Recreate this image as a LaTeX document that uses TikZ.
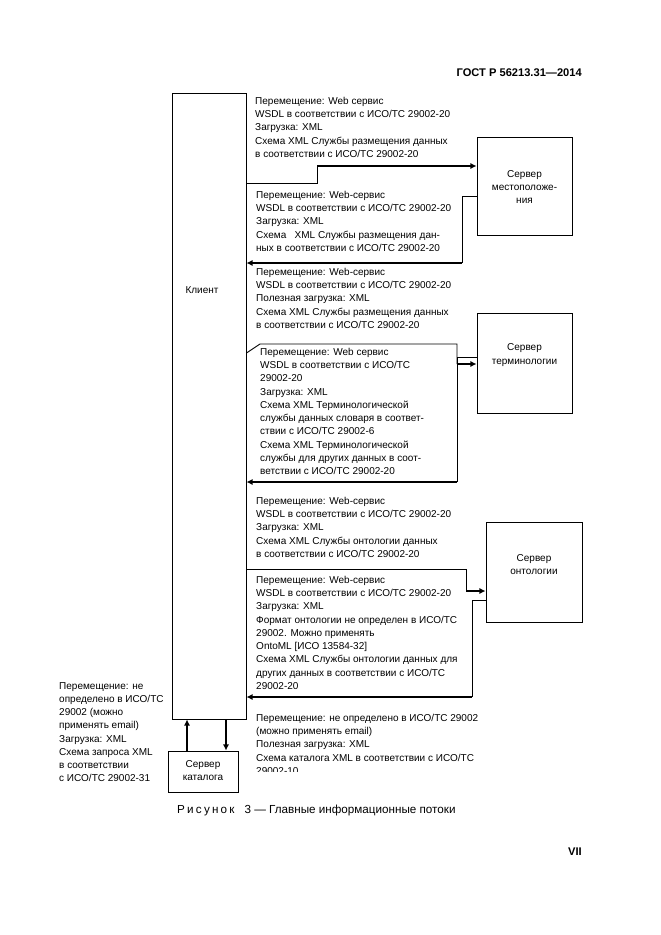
\documentclass[tikz,border=0pt]{standalone}
\usepackage{fontspec}
\setmainfont{Liberation Sans}
\usetikzlibrary{arrows.meta}

\begin{document}
\begin{tikzpicture}[x=0.9pt, y=-0.9pt,
            every node/.style={inner sep=0pt, font=\fontsize{9}{11.9}\selectfont},
            srv/.style={draw, line width=0.8pt},
            txt/.style={anchor=north west, align=left},
            link/.style={line width=0.8pt},
            flow/.style={line width=1.8pt, -{Latex[length=5.5pt,width=5.5pt]}}
          ]
          \useasboundingbox (0,0) rectangle (661,935);

          % header and page number
          \node[anchor=east, font=\fontsize{10}{12}\bfseries] (hdr) at (582,73) {ГОСТ Р 56213.31—2014};
          \node[anchor=east, font=\fontsize{10}{12}\bfseries] (pg) at (582,852) {VII};

          % boxes
          \node[srv, minimum width=66.6pt, minimum height=563.4pt] (client) at (209,406) {};
          \node (clientlbl) at (202,290) {Клиент};
          \node[srv, minimum width=85.5pt, minimum height=88.2pt] (srvloc) at (524.5,186) {};
          \node[align=center] (loclbl) at (524.5,187) {Сервер\\местоположе-\\ния};
          \node[srv, minimum width=85.5pt, minimum height=90pt] (srvterm) at (524.5,363) {};
          \node[align=center] (termlbl) at (524.5,355) {Сервер\\терминологии};
          \node[srv, minimum width=86.4pt, minimum height=90pt] (srvonto) at (534,572) {};
          \node[align=center] (ontolbl) at (534,564.5) {Сервер\\онтологии};
          \node[srv, minimum width=63pt, minimum height=36.9pt] (srvcat) at (203,771.5) {};
          \node[align=center] (catlbl) at (203,770.5) {Сервер\\каталога};

          % texts
          \node[txt] (t1) at (255,97) {Перемещение: Web сервис\\WSDL в соответствии с ИСО/ТС 29002-20\\Загрузка: XML\\Схема XML Службы размещения данных\\в соответствии с ИСО/ТС 29002-20};
          \node[txt] (t2) at (256,191) {Перемещение: Web-сервис\\WSDL в соответствии с ИСО/ТС 29002-20\\Загрузка: XML\\Схема\ \ \ XML Службы размещения дан-\\ных в соответствии с ИСО/ТС 29002-20};
          \node[txt] (t3) at (256,268) {Перемещение: Web-сервис\\WSDL в соответствии с ИСО/ТС 29002-20\\Полезная загрузка: XML\\Схема XML Службы размещения данных\\в соответствии с ИСО/ТС 29002-20};
          \node[txt] (t4) at (260,348) {Перемещение: Web сервис\\WSDL в соответствии с ИСО/ТС\\29002-20\\Загрузка: XML\\Схема XML Терминологической\\службы данных словаря в соответ-\\ствии с ИСО/ТС 29002-6\\Схема XML Терминологической\\службы для других данных в соот-\\ветствии с ИСО/ТС 29002-20};
          \node[txt] (t5) at (256,497) {Перемещение: Web-сервис\\WSDL в соответствии с ИСО/ТС 29002-20\\Загрузка: XML\\Схема XML Службы онтологии данных\\в соответствии с ИСО/ТС 29002-20};
          \node[txt] (t6) at (256,576) {Перемещение: Web-сервис\\WSDL в соответствии с ИСО/ТС 29002-20\\Загрузка: XML\\Формат онтологии не определен в ИСО/ТС\\29002. Можно применять\\OntoML [ИСО 13584-32]\\Схема XML Службы онтологии данных для\\других данных в соответствии с ИСО/ТС\\29002-20};
          \node[txt] (t7) at (59,682) {Перемещение: не\\определено в ИСО/ТС\\29002 (можно\\применять email)\\Загрузка: XML\\Схема запроса XML\\в соответствии\\с ИСО/ТС 29002-31};
          \begin{scope}
            \clip (250,700) rectangle (600,771);
            \node[txt] (t8) at (256,714) {Перемещение: не определено в ИСО/ТС 29002\\(можно применять email)\\Полезная загрузка: XML\\Схема каталога XML в соответствии с ИСО/ТС\\29002-10};
          \end{scope}

          % location server
          \coordinate (l1) at (317,183);
          \coordinate (l2) at (317,166);
          \draw[link] (client.east |- l1) -- (l1) -- (l2);
          \draw[flow] (l2) -- (srvloc.west |- l2);
          \coordinate (r1) at (462,196);
          \coordinate (r2) at (462,263);
          \draw[link] (srvloc.west |- r1) -- (r1) -- (r2);
          \draw[flow] (r2) -- (client.east |- r2);

          % terminology server
          \coordinate (m0) at (0,353);
          \coordinate (m1) at (260,344);
          \coordinate (m2) at (457,344);
          \coordinate (m3) at (457,364);
          \coordinate (m4) at (457,357);
          \coordinate (m5) at (457,482);
          \draw[link] (client.east |- m0) -- (m1) -- (m2) -- (m3);
          \draw[flow] (m3) -- (srvterm.west |- m3);
          \draw[link] (srvterm.west |- m4) -- (m4) -- (m5);
          \draw[flow] (m5) -- (client.east |- m5);

          % ontology server
          \coordinate (o1) at (466,569);
          \coordinate (o2) at (466,591);
          \coordinate (o3) at (472,600);
          \coordinate (o4) at (472,697);
          \draw[link] (client.east |- o1) -- (o1) -- (o2);
          \draw[flow] (o2) -- (srvonto.west |- o2);
          \draw[link] (srvonto.west |- o3) -- (o3) -- (o4);
          \draw[flow] (o4) -- (client.east |- o4);

          % catalog server
          \coordinate (up) at (187,0);
          \coordinate (dn) at (226,0);
          \draw[flow] (srvcat.north -| up) -- (client.south -| up);
          \draw[flow] (client.south -| dn) -- (srvcat.north -| dn);

          \node[anchor=west, font=\fontsize{10.5}{12}\selectfont] (cap) at (177,810) {Р\hspace{2pt}и\hspace{2pt}с\hspace{2pt}у\hspace{2pt}н\hspace{2pt}о\hspace{2pt}к\hspace{9pt}3 — Главные информационные потоки};
          \end{tikzpicture}
\end{document}
